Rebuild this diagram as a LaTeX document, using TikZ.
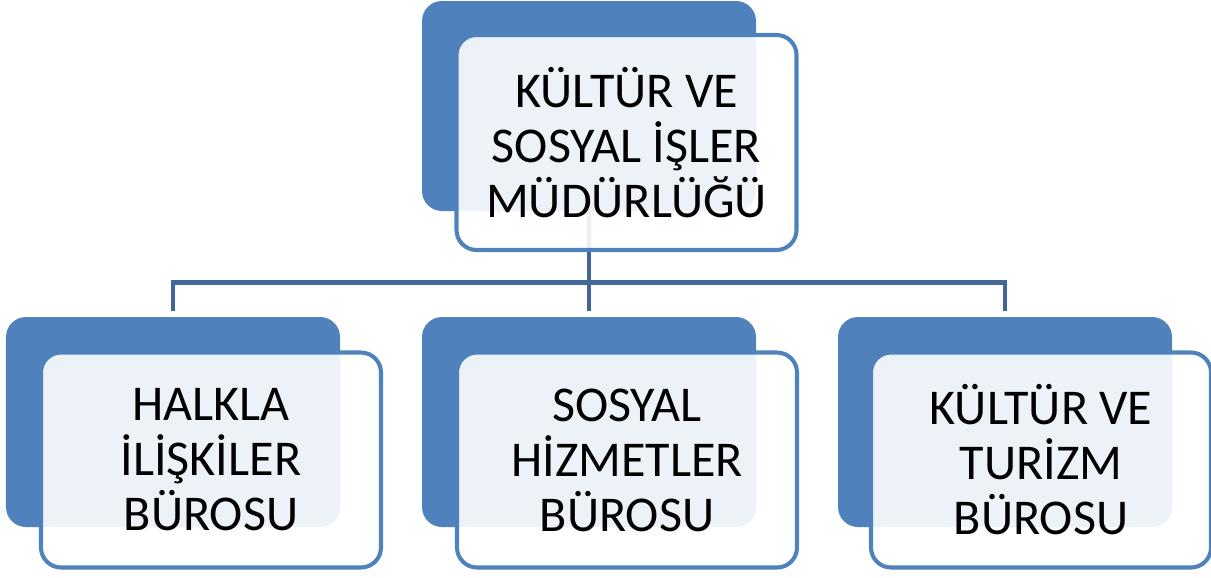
\documentclass[tikz,border=0pt]{standalone}
\usepackage{fontspec}
\setmainfont{Carlito}
\usepackage{tikz}
\definecolor{boxblue}{RGB}{79,129,189}
\definecolor{linkblue}{RGB}{64,104,153}
\tikzstyle{backbox} = [rectangle, rounded corners=0.4cm, minimum width=6.68cm, minimum height=4.2cm, fill=boxblue]
\tikzstyle{frontbox} = [rectangle, rounded corners=0.4cm, minimum width=6.8cm, minimum height=4.3cm, align=center, draw=boxblue, line width=2.3pt, fill=white, fill opacity=0.9, text opacity=1, font=\fontsize{28.5}{31.3}\selectfont]
\tikzstyle{link} = [draw=linkblue, line width=2.8pt]

\begin{document}
\begin{tikzpicture}[node distance=8.32cm]
\useasboundingbox (0,0) rectangle (24.22,-11.54);
\node (bTop) [backbox] at (11.78,-2.12) {};
\node (bMid) [backbox, below of=bTop, yshift=2cm] {};
\node (bLeft) [backbox, left of=bMid] {};
\node (bRight) [backbox, right of=bMid] {};

\draw [link] (bTop.south) -- ([yshift=3.4pt]bMid.north);
\draw [link] ([yshift=3.4pt]bLeft.north) -- ++(0,0.56) -| ([yshift=3.4pt]bRight.north);

\node (fTop) [frontbox, xshift=0.75cm, yshift=-0.73cm] at (bTop) {KÜLTÜR VE\\SOSYAL İŞLER\\MÜDÜRLÜĞÜ};
\node (fLeft) [frontbox, xshift=0.76cm, yshift=-0.76cm] at (bLeft) {HALKLA\\İLİŞKİLER\\BÜROSU};
\node (fMid) [frontbox, xshift=0.76cm, yshift=-0.76cm] at (bMid) {SOSYAL\\HİZMETLER\\BÜROSU};
\node (fRight) [frontbox, xshift=0.72cm, yshift=-0.76cm] at (bRight) {KÜLTÜR VE\\TURİZM\\BÜROSU};
\end{tikzpicture}
\end{document}
